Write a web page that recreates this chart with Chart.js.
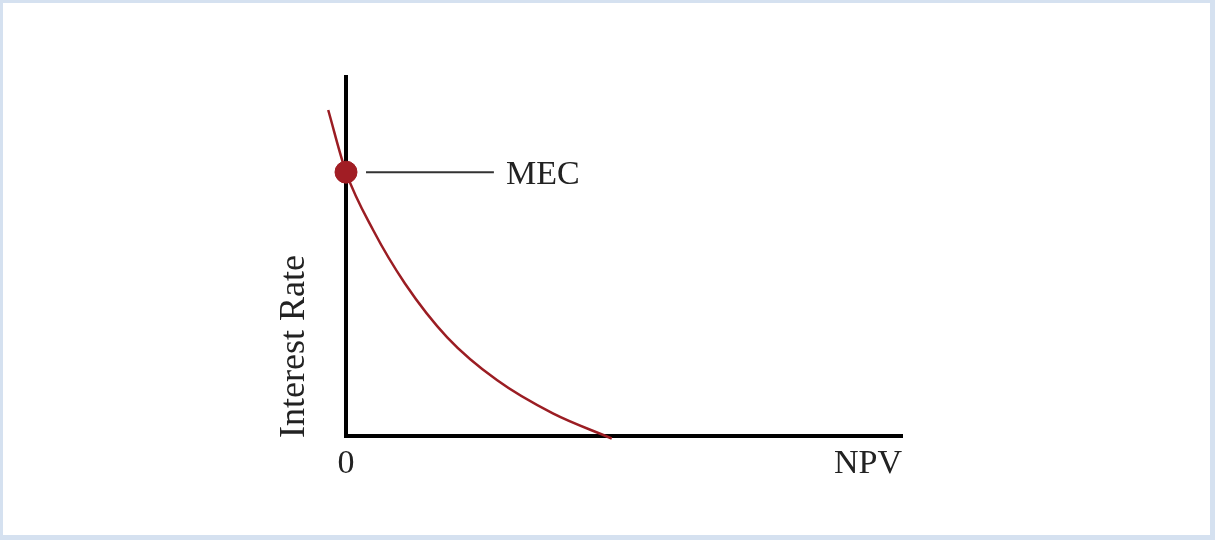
<!DOCTYPE html>
<html>
<head>
    <title>MEC curve</title>
    <script src="https://cdn.jsdelivr.net/npm/chart.js"></script>
    <style>
        body {
            margin: 0;
            background-color: #ffffff;
        }
        .frame {
            position: absolute;
            left: 0;
            top: 0;
            width: 1215px;
            height: 540px;
            box-sizing: border-box;
            border-style: solid;
            border-color: #d5e1f0;
            border-width: 3px 5px 5px 3px;
            background: #ffffff;
        }
        canvas {
            display: block;
        }
    </style>
</head>

<body>
    <div class="frame">
        <canvas id="mecChart" width="1207" height="532"></canvas>
    </div>

    <script>
    // NPV profile (axis units 0..10 both ways)
    const curveX = [-0.32, 0, 0.49, 1.06, 1.82, 2.72, 3.72, 4.78];
    const curveY = [9.08, 7.35, 5.73, 4.25, 2.75, 1.55, 0.63, -0.07];

    const mecX = 0;
    const mecY = 7.35;
    const leaderX = [0.36, 2.66];

    const xLabel = 'NPV';
    const yLabel = 'Interest Rate';
    const originLabel = '0';
    const mecLabel = 'MEC';

    const serif = "'Liberation Serif', 'DejaVu Serif', serif";

    const labelPlugin = {
        id: 'labels',
        afterDatasetsDraw(chart) {
            const ctx = chart.ctx;
            const x = chart.scales.x;
            const y = chart.scales.y;
            const area = chart.chartArea;
            ctx.save();
            ctx.fillStyle = '#222222';
            ctx.font = '34px ' + serif;

            // MEC label after the leader line
            ctx.textAlign = 'left';
            ctx.textBaseline = 'alphabetic';
            ctx.fillText(mecLabel, x.getPixelForValue(leaderX[1]) + 12, y.getPixelForValue(mecY) + 12);

            // tick "0" and NPV under the x axis
            ctx.textBaseline = 'top';
            ctx.textAlign = 'center';
            ctx.fillText(originLabel, x.getPixelForValue(0), area.bottom + 11);
            ctx.textAlign = 'right';
            ctx.fillText(xLabel, x.getPixelForValue(10), area.bottom + 11);

            // rotated y title
            ctx.font = '36px ' + serif;
            ctx.translate(area.left - 51, area.bottom + 2);
            ctx.rotate(-Math.PI / 2);
            ctx.textAlign = 'left';
            ctx.textBaseline = 'middle';
            ctx.fillText(yLabel, 0, 0);
            ctx.restore();
        }
    };

    const hiddenAxis = {
        min: 0,
        max: 10,
        border: { display: true, color: '#000000', width: 4 },
        grid: { display: false, drawTicks: false },
        ticks: { display: false }
    };

    new Chart(document.getElementById('mecChart'), {
        type: 'scatter',
        data: {
            datasets: [
                {
                    data: [{ x: mecX, y: mecY }],
                    backgroundColor: '#a11d24',
                    borderColor: '#a11d24',
                    pointRadius: 11,
                    showLine: false,
                    clip: false
                },
                {
                    data: curveX.map((v, i) => ({ x: v, y: curveY[i] })),
                    borderColor: '#9b1d23',
                    borderWidth: 2.5,
                    pointRadius: 0,
                    showLine: true,
                    cubicInterpolationMode: 'monotone',
                    clip: false
                },
                {
                    data: leaderX.map(v => ({ x: v, y: mecY })),
                    borderColor: '#333333',
                    borderWidth: 2,
                    pointRadius: 0,
                    showLine: true,
                    clip: false
                }
            ]
        },
        options: {
            responsive: false,
            animation: false,
            devicePixelRatio: 1,
            layout: {
                padding: { left: 343, top: 74, right: 308, bottom: 99 }
            },
            plugins: {
                legend: { display: false },
                tooltip: { enabled: false }
            },
            scales: {
                x: { type: 'linear', ...hiddenAxis },
                y: { type: 'linear', ...hiddenAxis }
            }
        },
        plugins: [labelPlugin]
    });
    </script>
</body>
</html>
